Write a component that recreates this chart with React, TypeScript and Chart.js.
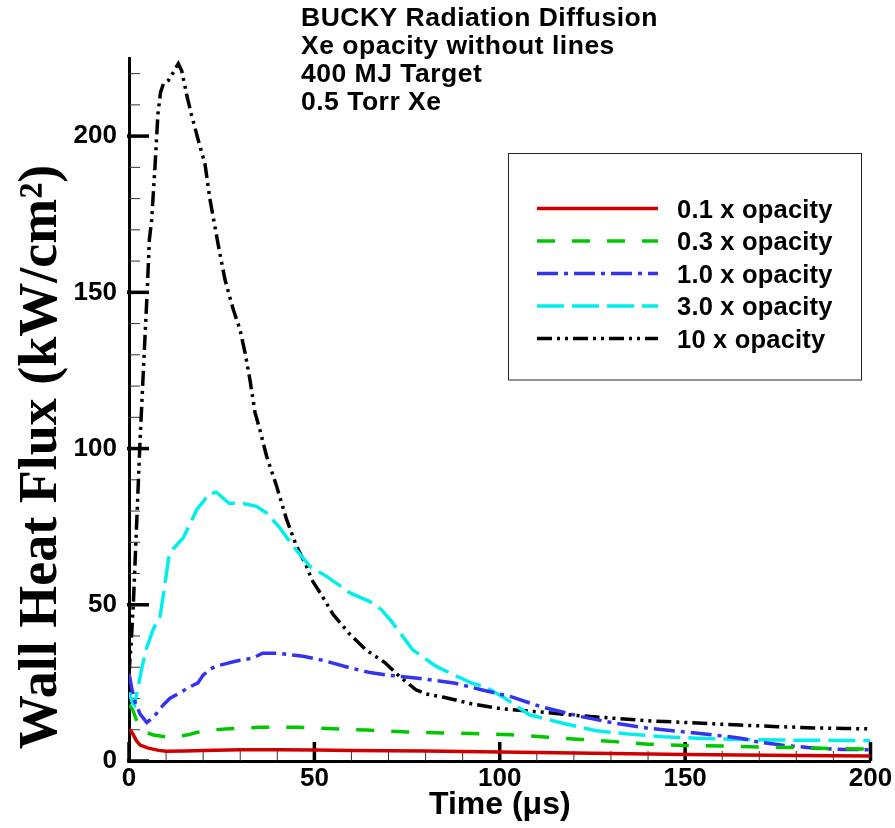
import { useEffect, useRef } from 'react';
import { Chart, registerables } from 'chart.js';

Chart.register(...registerables);

const SANS = "'Liberation Sans', Arial, Helvetica, sans-serif";
const SERIF = "'Liberation Serif', 'Times New Roman', serif";

// ---- text ----
const titleLines = ['BUCKY Radiation Diffusion', 'Xe opacity without lines', '400 MJ Target', '0.5 Torr Xe'];
const xTitle = 'Time (\u03bcs)';
const yTitle = 'Wall Heat Flux (kW/cm\u00b2)';
const seriesLabels = ['0.1 x opacity', '0.3 x opacity', '1.0 x opacity', '3.0 x opacity', '10 x opacity'];

// ---- axes ----
const xMin = 0;
const xMax = 200;
const yMin = 0;
const yMax = 225;
const xTickStep = 50;
const yTickStep = 50;
const minorStep = 10;

// ---- data: time (µs) and wall heat flux (kW/cm²) ----
const t01 = [0, 0.7, 2, 3, 5, 8, 10, 15, 20, 30, 40, 50, 60, 70, 80, 95, 110, 130, 150, 165, 180, 200];
const q01 = [10, 9.4, 6.5, 5.1, 4.2, 3.4, 3.1, 3.2, 3.4, 3.6, 3.6, 3.5, 3.4, 3.3, 3.2, 3.0, 2.7, 2.4, 2.1, 1.9, 1.8, 1.6];

const t03 = [0, 1, 2.5, 4, 6.6, 10.6, 13, 15.6, 19.1, 23, 27, 35, 45, 55, 64, 75, 88, 95, 103, 113, 122, 131, 140, 150, 160, 170, 180, 190, 200];
const q03 = [18, 16.4, 11.5, 9.5, 8.3, 7.6, 7.8, 8.3, 9.4, 10, 10.3, 10.8, 10.8, 10.3, 9.9, 9.3, 8.9, 8.7, 8.4, 7.6, 6.9, 6.2, 5.4, 5.0, 4.8, 4.5, 4.3, 4.0, 3.8];

const t10 = [0, 0.8, 1.6, 3, 4.8, 6, 7.5, 9.3, 11, 14, 16, 18.6, 20, 22, 24, 29, 33.5, 36, 40, 47, 52, 56, 60, 65, 69, 78, 88, 95, 103, 111, 122, 131, 140, 149, 158, 165, 170, 176, 185, 193, 200];
const q10 = [28, 23, 19, 15, 12.3, 13.5, 15.3, 18, 20, 22, 23.5, 25, 27.5, 29.5, 30.5, 32, 33, 34.5, 34.5, 33.5, 32.3, 31, 29.7, 28.3, 27.6, 26.5, 24.9, 22.8, 20.6, 17.4, 14.2, 12.1, 10.5, 9.4, 8.3, 7.3, 6.0, 5.1, 4.1, 3.7, 3.6];

const t30 = [0, 0.8, 1.5, 2.5, 3.5, 4.7, 6.5, 8.4, 9.5, 10.7, 12, 14.6, 16.5, 18.3, 20, 21.5, 23.6, 25.5, 27, 30.8, 34.4, 37.1, 40.7, 44.3, 48.8, 53.3, 59.6, 65, 68, 70.8, 76.5, 83, 92.4, 96, 101.4, 108, 117, 126, 135, 144, 153, 162, 175, 190, 200];
const q30 = [22, 19, 18, 24, 30, 36, 42, 46.5, 55, 65, 68, 71.4, 76, 80.5, 83, 85.5, 86, 84, 82.5, 82.4, 81.5, 79.4, 74.6, 68.7, 62.3, 59.1, 53.8, 51, 48.5, 44.7, 35.6, 30.2, 24.9, 23.8, 20.1, 14.8, 12.1, 9.7, 8.6, 7.8, 7.3, 7.0, 6.7, 6.6, 6.6];

const t100 = [0, 0.6, 1.2, 2.1, 3, 4, 4.9, 5.5, 6.1, 7, 7.8, 8.5, 9.3, 10.6, 12, 13.3, 14.2, 15.6, 16.9, 18.5, 20.5, 21.8, 24.1, 25.9, 28.1, 29.9, 31.3, 32.6, 34, 35.3, 37.1, 39.8, 42.5, 45.2, 47.9, 49.3, 52, 55, 59.6, 64, 69, 73, 77.4, 80, 84.9, 92.4, 100, 112.6, 121.6, 130.6, 139.6, 148.6, 157.6, 164.8, 175, 185, 193, 200];
const q100 = [28, 38, 51, 77, 103, 128, 150, 167, 173, 190, 207, 214, 216.8, 217.8, 220.5, 223.2, 221, 213, 206.6, 199.5, 191, 180, 165, 154, 144.6, 138.2, 130.7, 122.2, 111.5, 106, 97.6, 88, 77.3, 68.7, 62.3, 58, 53, 47, 40.5, 35.5, 31.5, 27, 22.8, 21.5, 20.4, 18.3, 16.8, 15.5, 14.5, 13.7, 12.9, 12.4, 11.9, 11.5, 11.0, 10.6, 10.4, 10.3];

const seriesTimes = [t01, t03, t10, t30, t100];
const seriesValues = [q01, q03, q10, q30, q100];
const seriesColors = ['#d00000', '#00c800', '#3333f0', '#00eeee', '#000000'];
const seriesDashes = [[], [18, 17], [21, 6, 4, 6], [27, 8], [15, 5, 3, 5, 3, 5]];

const decorations = {
  id: 'decorations',
  beforeDatasetsDraw(chart: any) {
    const { ctx, chartArea: a, scales } = chart;
    const xs = scales.x;
    const ys = scales.y;
    ctx.save();
    ctx.setLineDash([]);
    for (let v = xMin; v <= xMax; v += minorStep) {
      const major = v % xTickStep === 0;
      const px = xs.getPixelForValue(v);
      ctx.strokeStyle = major ? '#000' : '#333';
      ctx.lineWidth = major ? 3.5 : 1;
      ctx.beginPath();
      ctx.moveTo(px, a.bottom);
      ctx.lineTo(px, a.bottom - (major ? 19 : 10));
      ctx.stroke();
    }
    for (let v = yMin; v <= yMax; v += minorStep) {
      const major = v % yTickStep === 0;
      const py = ys.getPixelForValue(v);
      ctx.strokeStyle = major ? '#000' : '#333';
      ctx.lineWidth = major ? 3.5 : 1;
      ctx.beginPath();
      ctx.moveTo(a.left - (major ? 2 : 0), py);
      ctx.lineTo(a.left + (major ? 20 : 11), py);
      ctx.stroke();
    }
    ctx.restore();
  },
  afterDraw(chart: any) {
    const { ctx, chartArea: a } = chart;
    ctx.save();
    ctx.fillStyle = '#000';
    // top title block
    ctx.font = `bold 26.5px ${SANS}`;
    (ctx as any).letterSpacing = '0.5px';
    ctx.textAlign = 'left';
    ctx.textBaseline = 'alphabetic';
    const titleBase = [26, 54, 82, 110];
    titleLines.forEach((s, i) => ctx.fillText(s, 301, titleBase[i]));
    (ctx as any).letterSpacing = '0px';

    // x title
    ctx.font = `bold 32px ${SANS}`;
    ctx.textAlign = 'center';
    ctx.textBaseline = 'middle';
    ctx.fillText(xTitle, (a.left + a.right) / 2, 805);

    // y title
    ctx.save();
    ctx.translate(42, 457);
    ctx.rotate(-Math.PI / 2);
    ctx.font = `bold 54px ${SERIF}`;
    ctx.textAlign = 'center';
    ctx.textBaseline = 'middle';
    ctx.fillText(yTitle, 0, 0);
    ctx.restore();

    // legend box
    ctx.strokeStyle = '#222';
    ctx.lineWidth = 1;
    ctx.setLineDash([]);
    ctx.strokeRect(508.5, 153.5, 353, 226.5);
    const rows = [208.5, 241, 273.5, 306, 338.5];
    chart.data.datasets.forEach((ds: any, i: number) => {
      const y = rows[i];
      ctx.strokeStyle = ds.borderColor;
      ctx.lineWidth = 3.5;
      ctx.setLineDash(ds.borderDash || []);
      ctx.beginPath();
      ctx.moveTo(537, y);
      ctx.lineTo(658, y);
      ctx.stroke();
      ctx.setLineDash([]);
      ctx.fillStyle = '#000';
      ctx.font = `bold 25.5px ${SANS}`;
      (ctx as any).letterSpacing = '0.2px';
      ctx.textAlign = 'left';
      ctx.textBaseline = 'alphabetic';
      ctx.fillText(ds.label, 677, y + 9);
      (ctx as any).letterSpacing = '0px';
    });
    ctx.restore();
  },
};

export default function App() {
  const ref = useRef<HTMLCanvasElement | null>(null);
  useEffect(() => {
    if (!ref.current) return;
    const datasets = seriesLabels.map((label, i) => ({
      label,
      data: seriesTimes[i].map((t, j) => ({ x: t, y: seriesValues[i][j] })),
      borderColor: seriesColors[i],
      backgroundColor: seriesColors[i],
      borderDash: seriesDashes[i],
      borderWidth: 3.5,
      pointRadius: 0,
      tension: 0,
      fill: false,
    }));
    const chart = new Chart(ref.current, {
      type: 'line',
      data: { datasets },
      plugins: [decorations],
      options: {
        animation: false,
        responsive: false,
        maintainAspectRatio: false,
        layout: { padding: { top: 58, right: 24.5, left: 0, bottom: 0 } },
        plugins: { legend: { display: false }, tooltip: { enabled: false }, title: { display: false } },
        scales: {
          x: {
            type: 'linear',
            min: xMin,
            max: xMax,
            grid: { display: false, drawTicks: false },
            border: { display: true, width: 3, color: '#000' },
            ticks: {
              stepSize: xTickStep,
              color: '#000',
              font: { family: SANS, size: 26, weight: 'bold' },
              padding: 2,
              maxRotation: 0,
              autoSkip: false,
            },
            afterFit: (s: any) => {
              s.height = 67;
            },
          },
          y: {
            type: 'linear',
            min: yMin,
            max: yMax,
            grid: { display: false, drawTicks: false },
            border: { display: true, width: 3, color: '#000' },
            ticks: {
              stepSize: yTickStep,
              includeBounds: false,
              color: '#000',
              font: { family: SANS, size: 26, weight: 'bold' },
              padding: 12,
              callback: (v: any) => (Number(v) % yTickStep === 0 ? String(v) : ''),
            },
            afterFit: (s: any) => {
              s.width = 129;
            },
          },
        },
      } as any,
    });
    return () => chart.destroy();
  }, []);
  return (
    <div style={{ position: 'absolute', left: 0, top: 0, width: 895, height: 828, background: '#fff' }}>
      <canvas ref={ref} width={895} height={828} style={{ display: 'block', width: 895, height: 828 }} />
    </div>
  );
}
